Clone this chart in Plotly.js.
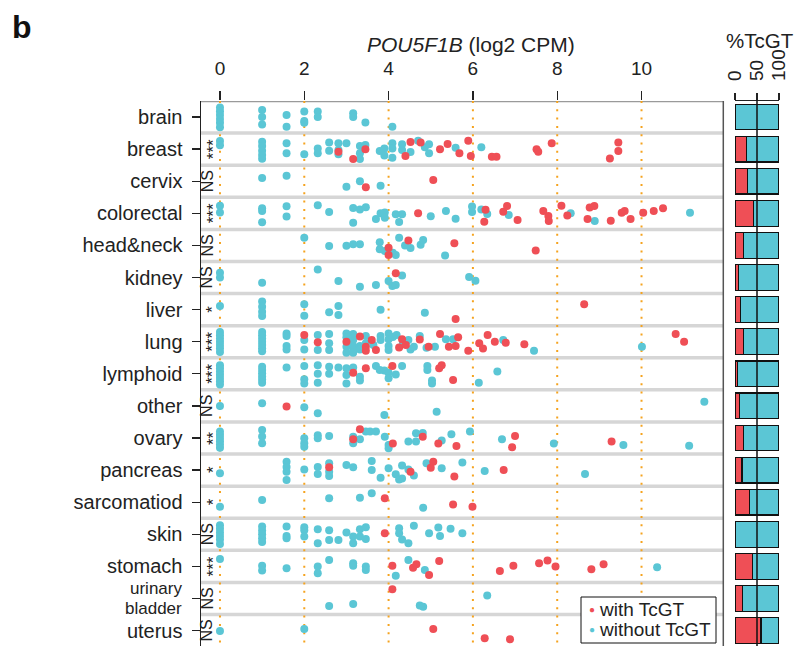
<!DOCTYPE html>
<html><head><meta charset="utf-8">
<script src="https://cdn.plot.ly/plotly-3.0.1.min.js"></script>
<style>html,body{margin:0;padding:0;background:#fff}</style>
</head><body><div id="chart" style="width:795px;height:646px"></div>
<script>
// ---------------- DATA ----------------
const categories = ['brain','breast','cervix','colorectal','head&neck','kidney','liver','lung','lymphoid','other','ovary','pancreas','sarcomatiod','skin','stomach','urinary bladder','uterus'];
const significance = ['','***','NS','***','NS','NS','*','***','***','NS','**','*','*','NS','***','NS','NS'];
const pctTcGT = [0,26,29,42,19,8,12,19,6,11,19,16,33,1.5,40,17,59];
const xTicks = [0,2,4,6,8,10];
const pctTicks = [0,50,100];

// each point: [POU5F1B log2 CPM, jitter within row]
const brainWith = [];
const brainWithout = [[0,-0.3],[0,-0.18],[0,-0.06],[0,0.06],[0,0.18],[0,0.32],[1.0,-0.22],[1.0,0],[1.0,0.23],[1.58,-0.06],[1.58,0.3],[2.0,-0.17],[2.0,0.12],[2.0,0.18],[2.32,-0.17],[2.32,0],[3.16,-0.12],[3.16,0],[3.45,0.17],[4.09,0.3]];
const breastWith = [[2.81,0.08],[3.16,0.31],[3.45,0.0],[4.4,0.21],[4.52,-0.22],[4.76,-0.21],[5.22,0],[5.4,-0.16],[5.68,0.13],[5.89,-0.26],[5.95,0.21],[6.45,0.24],[6.56,0.24],[7.51,0],[7.55,0.08],[7.87,-0.18],[9.25,0.29],[9.45,-0.21],[9.45,0.06]];
const breastWithout = [[0,-0.25],[0,-0.12],[1.0,-0.23],[1.0,-0.1],[1.0,0.05],[1.0,0.18],[1.0,0.3],[1.58,-0.18],[1.58,0.13],[2.0,0.16],[2.32,-0.02],[2.32,0.13],[2.59,-0.21],[2.59,0.05],[2.81,-0.18],[2.81,0.03],[2.81,0.16],[3.0,-0.18],[3.32,-0.1],[3.32,0.13],[3.32,0.31],[3.45,-0.13],[3.79,0.06],[3.9,-0.02],[3.9,0.2],[4.09,-0.18],[4.09,-0.02],[4.09,0.27],[4.32,-0.15],[4.32,0.03],[4.52,0.09],[4.7,-0.26],[4.86,-0.06],[4.96,-0.15],[4.96,0.13],[5.59,-0.04],[6.2,-0.06]];
const cervixWith = [[3.46,0.19],[5.06,-0.04]];
const cervixWithout = [[1.0,-0.1],[1.58,-0.17],[3.0,0.17],[3.32,0],[3.81,0.14]];
const colorectalWith = [[4.7,0],[6.3,-0.11],[6.27,0.26],[6.72,-0.05],[6.81,-0.23],[7.06,0.21],[7.67,-0.07],[7.79,0.08],[7.8,0.24],[8.1,-0.24],[8.24,0.07],[8.72,0.18],[8.77,-0.18],[8.88,-0.23],[9.27,0.23],[9.53,-0.02],[9.6,-0.07],[9.74,0.18],[10.04,-0.02],[10.29,-0.07],[10.51,-0.16]];
const colorectalWithout = [[0,-0.24],[0,-0.03],[1.0,-0.16],[1.0,-0.07],[1.0,0.28],[1.58,-0.22],[1.58,0.1],[2.32,-0.25],[2.59,-0.04],[3.16,-0.17],[3.16,0.29],[3.32,-0.12],[3.46,-0.19],[3.7,0.18],[3.81,0],[3.91,-0.03],[3.91,0.14],[4.17,0.03],[4.25,0.27],[4.32,0.03],[5.0,0.09],[5.36,-0.07],[5.59,0.17],[5.98,-0.21],[5.98,-0.04],[6.2,-0.12],[6.34,0.02],[6.85,0.05],[8.32,0],[8.89,0.24],[11.15,-0.02]];
const headneckWith = [[4.0,0.07],[4.0,0.3],[4.47,-0.15],[5.56,-0.07],[7.49,0.16]];
const headneckWithout = [[2.0,-0.24],[2.59,0.02],[3.0,0.01],[3.16,-0.04],[3.32,-0.04],[3.79,-0.1],[3.79,0.12],[3.91,0.17],[4.1,0.23],[4.17,0.3],[4.25,-0.24],[4.39,0],[4.52,0.08],[4.76,-0.02],[4.82,-0.17],[5.34,0.31]];
const kidneyWith = [[4.17,-0.13]];
const kidneyWithout = [[0,-0.15],[0,0],[1.0,0.16],[2.32,-0.25],[2.81,0.11],[3.32,0.29],[3.7,0.23],[4.0,0.11],[4.09,0.26],[4.17,0.23],[4.32,-0.06],[5.91,-0.02],[6.06,0.1]];
const liverWith = [[5.59,0.29],[8.64,-0.17]];
const liverWithout = [[0,-0.11],[1.0,-0.25],[1.0,-0.09],[1.0,0.07],[1.0,0.2],[2.0,-0.17],[2.0,0.19],[2.59,0.08],[2.81,-0.11],[2.81,0.17],[3.81,0],[4.86,0.1]];
const lungWith = [[2.0,-0.21],[2.32,0.02],[3.0,0],[3.32,-0.16],[3.46,0.16],[3.46,0.28],[3.6,-0.05],[3.7,0.26],[4.25,0.18],[4.32,-0.08],[4.41,0.1],[4.74,-0.07],[4.95,0.16],[5.22,-0.24],[5.43,0.16],[5.59,0.13],[5.65,-0.14],[5.89,0.28],[6.15,0.05],[6.24,0.21],[6.35,-0.21],[6.52,0],[6.78,0.03],[7.22,0.08],[10.81,-0.24],[11.01,0]];
const lungWithout = [[0,-0.3],[0,-0.2],[0,-0.1],[0,0],[0,0.1],[0,0.2],[0,0.32],[1.0,-0.3],[1.0,-0.2],[1.0,-0.1],[1.0,0],[1.0,0.1],[1.0,0.2],[1.0,0.3],[1.58,-0.26],[1.58,-0.18],[1.58,0.13],[1.58,0.24],[2.0,-0.05],[2.0,0.24],[2.32,-0.21],[2.32,0.26],[2.59,-0.24],[2.59,0.05],[2.59,0.26],[3.0,-0.26],[3.0,-0.14],[3.0,0.16],[3.0,0.34],[3.16,-0.24],[3.16,-0.05],[3.16,0.13],[3.16,0.26],[3.16,0.34],[3.32,0.13],[3.32,0.24],[3.46,-0.18],[3.46,0.05],[3.64,0.1],[3.81,-0.18],[3.81,-0.05],[4.0,-0.26],[4.0,-0.08],[4.0,0.13],[4.0,0.26],[4.1,-0.15],[4.19,-0.21],[4.34,0.05],[4.47,-0.05],[4.52,0.24],[4.6,0.16],[4.74,-0.18],[4.9,0.19],[5.1,0.16],[5.36,-0.08],[5.53,-0.08],[6.72,-0.05],[7.45,0.28],[10.01,0.16]];
const lymphoidWith = [[3.16,-0.03],[3.46,-0.17],[4.09,-0.24],[5.2,-0.17],[5.26,-0.27],[5.53,0.19]];
const lymphoidWithout = [[0,-0.27],[0,-0.17],[0,-0.07],[0,0.03],[0,0.13],[0,0.23],[0,0.33],[1.0,-0.22],[1.0,-0.12],[1.0,-0.02],[1.0,0.08],[1.0,0.18],[1.0,0.28],[1.58,-0.2],[2.0,-0.24],[2.0,0.17],[2.0,0.3],[2.32,-0.27],[2.32,0],[2.32,0.28],[2.59,-0.22],[2.59,0],[2.81,-0.2],[3.0,-0.17],[3.0,0.04],[3.0,0.3],[3.16,-0.2],[3.32,0.09],[3.32,0.21],[3.7,-0.24],[3.79,-0.12],[3.9,-0.1],[4.0,-0.03],[4.0,0.14],[4.17,0.02],[4.32,-0.24],[4.92,-0.24],[4.92,-0.12],[5.03,0.21],[5.03,0.3],[6.14,0.28],[6.58,-0.07]];
const otherWith = [[1.58,0.02]];
const otherWithout = [[0,0],[1.0,-0.08],[2.0,0.04],[2.32,0.23],[3.9,0.28],[5.14,0.18],[11.49,-0.13]];
const ovaryWith = [[3.16,0.04],[3.32,-0.27],[4.1,0.17],[4.81,-0.04],[5.18,0.17],[5.61,0.25],[7.0,-0.06],[6.93,0.29],[9.29,0.11]];
const ovaryWithout = [[0,-0.2],[0,-0.1],[0,0],[0,0.1],[0,0.2],[0,0.3],[1.0,-0.25],[1.0,-0.05],[1.0,0.16],[2.0,0.01],[2.0,0.16],[2.0,0.27],[2.32,-0.09],[2.32,0.01],[2.59,-0.06],[3.16,-0.04],[3.16,0.16],[3.32,0.04],[3.46,-0.2],[3.56,-0.2],[3.7,-0.2],[3.91,-0.04],[4.0,0.22],[4.0,0.32],[4.47,0.11],[4.65,-0.15],[4.65,0.11],[4.81,-0.16],[5.26,0.08],[5.49,-0.12],[5.93,-0.2],[6.69,0.04],[7.92,0.17],[9.57,0.22],[11.13,0.24]];
const pancreasWith = [[2.59,-0.09],[4.52,0.05],[5.0,-0.07],[5.06,-0.26],[5.56,0.2],[6.73,0]];
const pancreasWithout = [[0,0.1],[1.58,-0.26],[1.58,-0.1],[1.58,0.05],[1.58,0.31],[2.0,-0.02],[2.32,-0.1],[2.32,0.12],[2.59,-0.21],[2.59,0.05],[2.59,0.18],[3.0,-0.16],[3.16,-0.09],[3.6,-0.28],[3.6,0],[3.81,0.24],[4.0,-0.06],[4.17,0.13],[4.25,0.29],[4.32,0.26],[4.32,-0.14],[4.47,-0.02],[4.6,0.17],[4.9,-0.21],[5.26,-0.06],[5.75,-0.24],[6.28,0.03],[8.66,0.12]];
const sarcomatiodWith = [[3.91,-0.12],[5.53,0.07],[5.99,0.14]];
const sarcomatiodWithout = [[0,0.14],[1.0,-0.07],[2.59,-0.12],[3.32,-0.14],[3.6,-0.28],[4.82,0.17]];
const skinWith = [[3.91,-0.03]];
const skinWithout = [[0,-0.28],[0,-0.17],[0,-0.06],[0,0.05],[0,0.16],[0,0.3],[1.0,-0.24],[1.0,-0.12],[1.0,0],[1.0,0.12],[1.0,0.24],[1.58,-0.24],[1.58,0.05],[1.58,0.12],[2.0,-0.22],[2.0,-0.13],[2.0,0.07],[2.32,-0.16],[2.32,0.28],[2.59,-0.13],[2.59,0.18],[2.81,0.18],[3.0,-0.06],[3.16,0.07],[3.16,0.28],[3.32,-0.16],[3.32,0.07],[3.46,-0.22],[3.46,0.15],[4.25,-0.19],[4.25,-0.03],[4.32,0.16],[4.47,0.28],[4.6,-0.27],[4.96,-0.03],[5.18,-0.21],[5.22,0.05],[5.47,-0.17],[5.75,-0.03]];
const stomachWith = [[4.09,-0.02],[4.58,0.04],[4.66,-0.07],[4.96,0.27],[5.2,-0.17],[6.64,0.14],[6.96,-0.02],[7.57,-0.1],[7.77,-0.18],[7.96,0],[8.81,0.09],[9.1,-0.07]];
const stomachWithout = [[0,-0.23],[1.0,-0.02],[1.0,0.13],[1.58,0.06],[2.32,0],[2.32,0.21],[2.59,-0.2],[3.16,-0.1],[3.16,-0.02],[3.46,0],[3.46,0.11],[4.17,0.29],[4.47,-0.2],[4.86,0.11],[10.37,0.03]];
const bladderWith = [[4.09,-0.29]];
const bladderWithout = [[2.59,0.23],[3.16,0.17],[4.74,0.22],[4.82,0.26],[6.34,-0.09]];
const uterusWith = [[5.06,-0.05],[6.28,0.24],[6.88,0.27]];
const uterusWithout = [[0,0.01],[2.0,-0.05]];

const withGroups = [brainWith,breastWith,cervixWith,colorectalWith,headneckWith,kidneyWith,liverWith,lungWith,lymphoidWith,otherWith,ovaryWith,pancreasWith,sarcomatiodWith,skinWith,stomachWith,bladderWith,uterusWith];
const withoutGroups = [brainWithout,breastWithout,cervixWithout,colorectalWithout,headneckWithout,kidneyWithout,liverWithout,lungWithout,lymphoidWithout,otherWithout,ovaryWithout,pancreasWithout,sarcomatiodWithout,skinWithout,stomachWithout,bladderWithout,uterusWithout];

// ---------------- STYLE ----------------
const W = 795, H = 646;
const RED = '#EF4F56', CYAN = '#5BC6D5';
const FONT = 'Liberation Sans, Arial, Helvetica, sans-serif';
const TXT = '#222';
const px = v => v / W, py = v => 1 - v / H;
const n = categories.length;

function flatten(groups) {
  const xs = [], ys = [];
  groups.forEach((g, i) => g.forEach(p => { xs.push(p[0]); ys.push(i + p[1]); }));
  return {xs, ys};
}
const wo = flatten(withoutGroups), wi = flatten(withGroups);
const rowIdx = categories.map((c, i) => i);

const traces = [
  {type:'scatter', mode:'markers', x:wo.xs, y:wo.ys, xaxis:'x', yaxis:'y', marker:{color:CYAN, size:8}, name:'without TcGT', showlegend:false, hoverinfo:'skip'},
  {type:'scatter', mode:'markers', x:wi.xs, y:wi.ys, xaxis:'x', yaxis:'y', marker:{color:RED, size:8}, name:'with TcGT', showlegend:false, hoverinfo:'skip'},
  {type:'bar', orientation:'h', x:pctTcGT, y:rowIdx, xaxis:'x2', yaxis:'y', width:0.8, marker:{color:RED, line:{color:'#111', width:1.2}}, showlegend:false, hoverinfo:'skip'},
  {type:'bar', orientation:'h', x:pctTcGT.map(v=>100-v), y:rowIdx, xaxis:'x2', yaxis:'y', width:0.8, marker:{color:CYAN, line:{color:'#111', width:1.2}}, showlegend:false, hoverinfo:'skip'}
];

const yTop = -0.5, yBot = 16.48;
const shapes = [];
xTicks.forEach(t => shapes.push({type:'line', xref:'x', yref:'y', x0:t, x1:t, y0:yTop, y1:yBot, line:{color:'#F5A31E', width:2, dash:'2px,6.3px'}, layer:'below'}));
for (let i = 0; i < n - 1; i++) {
  shapes.push({type:'line', xref:'paper', yref:'y', x0:px(201), x1:px(723.3), y0:i+0.5, y1:i+0.5, line:{color:'#D6D6D6', width:3.5}, layer:'below'});
}
shapes.push({type:'line', xref:'paper', yref:'y', x0:px(201), x1:px(723.3), y0:yTop, y1:yTop, line:{color:'#9A9A9A', width:2.5}, layer:'below'});
shapes.push({type:'line', xref:'paper', yref:'y', x0:px(723.3), x1:px(723.3), y0:yTop, y1:yBot, line:{color:'#555', width:1.5}, layer:'below'});
shapes.push({type:'line', xref:'x2', yref:'paper', x0:50, x1:50, y0:0, y1:py(100), line:{color:'#111', width:1.5}, layer:'above'});
// legend box
shapes.push({type:'rect', xref:'paper', yref:'paper', x0:px(581), x1:px(716), y0:py(643), y1:py(597), fillcolor:'#fff', line:{color:'#111', width:1}, layer:'above'});

const annotations = [
  {text:'<b>b</b>', xref:'paper', yref:'paper', x:px(10), y:py(27), xanchor:'left', yanchor:'middle', showarrow:false, font:{size:32, family:FONT, color:'#111'}},
  {text:'<i>POU5F1B</i> (log2 CPM)', xref:'paper', yref:'paper', x:px(471), y:py(44), xanchor:'center', yanchor:'middle', showarrow:false, font:{size:21, family:FONT, color:TXT}},
  {text:'%TcGT', xref:'paper', yref:'paper', x:px(760), y:py(41), xanchor:'center', yanchor:'middle', showarrow:false, font:{size:20.5, family:FONT, color:TXT}},
  {text:'urinary', xref:'paper', yref:'y', x:px(183), y:14.69, xanchor:'right', yanchor:'middle', showarrow:false, borderpad:0, font:{size:17, family:FONT, color:TXT}},
  {text:'bladder', xref:'paper', yref:'y', x:px(183), y:15.30, xanchor:'right', yanchor:'middle', showarrow:false, borderpad:0, font:{size:17, family:FONT, color:TXT}},
  {text:'●', xref:'paper', yref:'paper', x:px(592), y:py(609), xanchor:'center', yanchor:'middle', showarrow:false, font:{size:10, family:FONT, color:RED}},
  {text:'with TcGT', xref:'paper', yref:'paper', x:px(597), y:py(609), xanchor:'left', yanchor:'middle', showarrow:false, font:{size:19, family:FONT, color:TXT}},
  {text:'●', xref:'paper', yref:'paper', x:px(592), y:py(629), xanchor:'center', yanchor:'middle', showarrow:false, font:{size:10, family:FONT, color:CYAN}},
  {text:'without TcGT', xref:'paper', yref:'paper', x:px(597), y:py(629), xanchor:'left', yanchor:'middle', showarrow:false, font:{size:19, family:FONT, color:TXT}}
];
significance.forEach((s, i) => {
  if (!s) return;
  const isNS = s === 'NS';
  annotations.push({text:s, xref:'paper', yref:'y', x:px(isNS ? 207 : 213), y:i, xanchor:'center', yanchor:'middle', textangle:-90, showarrow:false,
    font:{size: isNS ? 16 : 17, family:FONT, color:TXT}});
});

const layout = {
  width:W, height:H, margin:{l:0, r:0, t:0, b:0},
  paper_bgcolor:'#fff', plot_bgcolor:'rgba(0,0,0,0)',
  font:{family:FONT, color:TXT},
  showlegend:false, barmode:'stack', bargap:0.2,
  xaxis:{domain:[px(201), px(723.3)], range:[-0.45, 11.94], side:'top', anchor:'y',
    tickmode:'array', tickvals:xTicks, ticktext:xTicks.map(String), ticks:'outside', ticklen:9, tickwidth:1.3, tickcolor:TXT,
    tickfont:{size:19, family:FONT, color:TXT}, ticklabelstandoff:8, showgrid:false, zeroline:false, showline:false, fixedrange:true},
  xaxis2:{domain:[px(735), px(779)], range:[0, 100], side:'top', anchor:'y',
    tickmode:'array', tickvals:pctTicks, ticktext:pctTicks.map(String), ticks:'outside', ticklen:7, tickwidth:1.2, tickcolor:TXT, tickangle:-90,
    tickfont:{size:19, family:FONT, color:TXT}, ticklabelstandoff:8, showgrid:false, zeroline:false, showline:true, linecolor:TXT, linewidth:1.2},
  yaxis:{domain:[0, py(101)], range:[yBot, yTop], anchor:'x',
    tickmode:'array', tickvals:rowIdx, ticktext:categories.map(c => c === 'urinary bladder' ? '' : c),
    ticks:'outside', ticklen:8, tickwidth:1.3, tickcolor:TXT, ticklabelstandoff:5,
    tickfont:{size:20, family:FONT, color:TXT}, showgrid:false, zeroline:false, showline:true, linecolor:TXT, linewidth:1.5},
  shapes, annotations
};

Plotly.newPlot('chart', traces, layout, {displayModeBar:false, staticPlot:true});
</script></body></html>
